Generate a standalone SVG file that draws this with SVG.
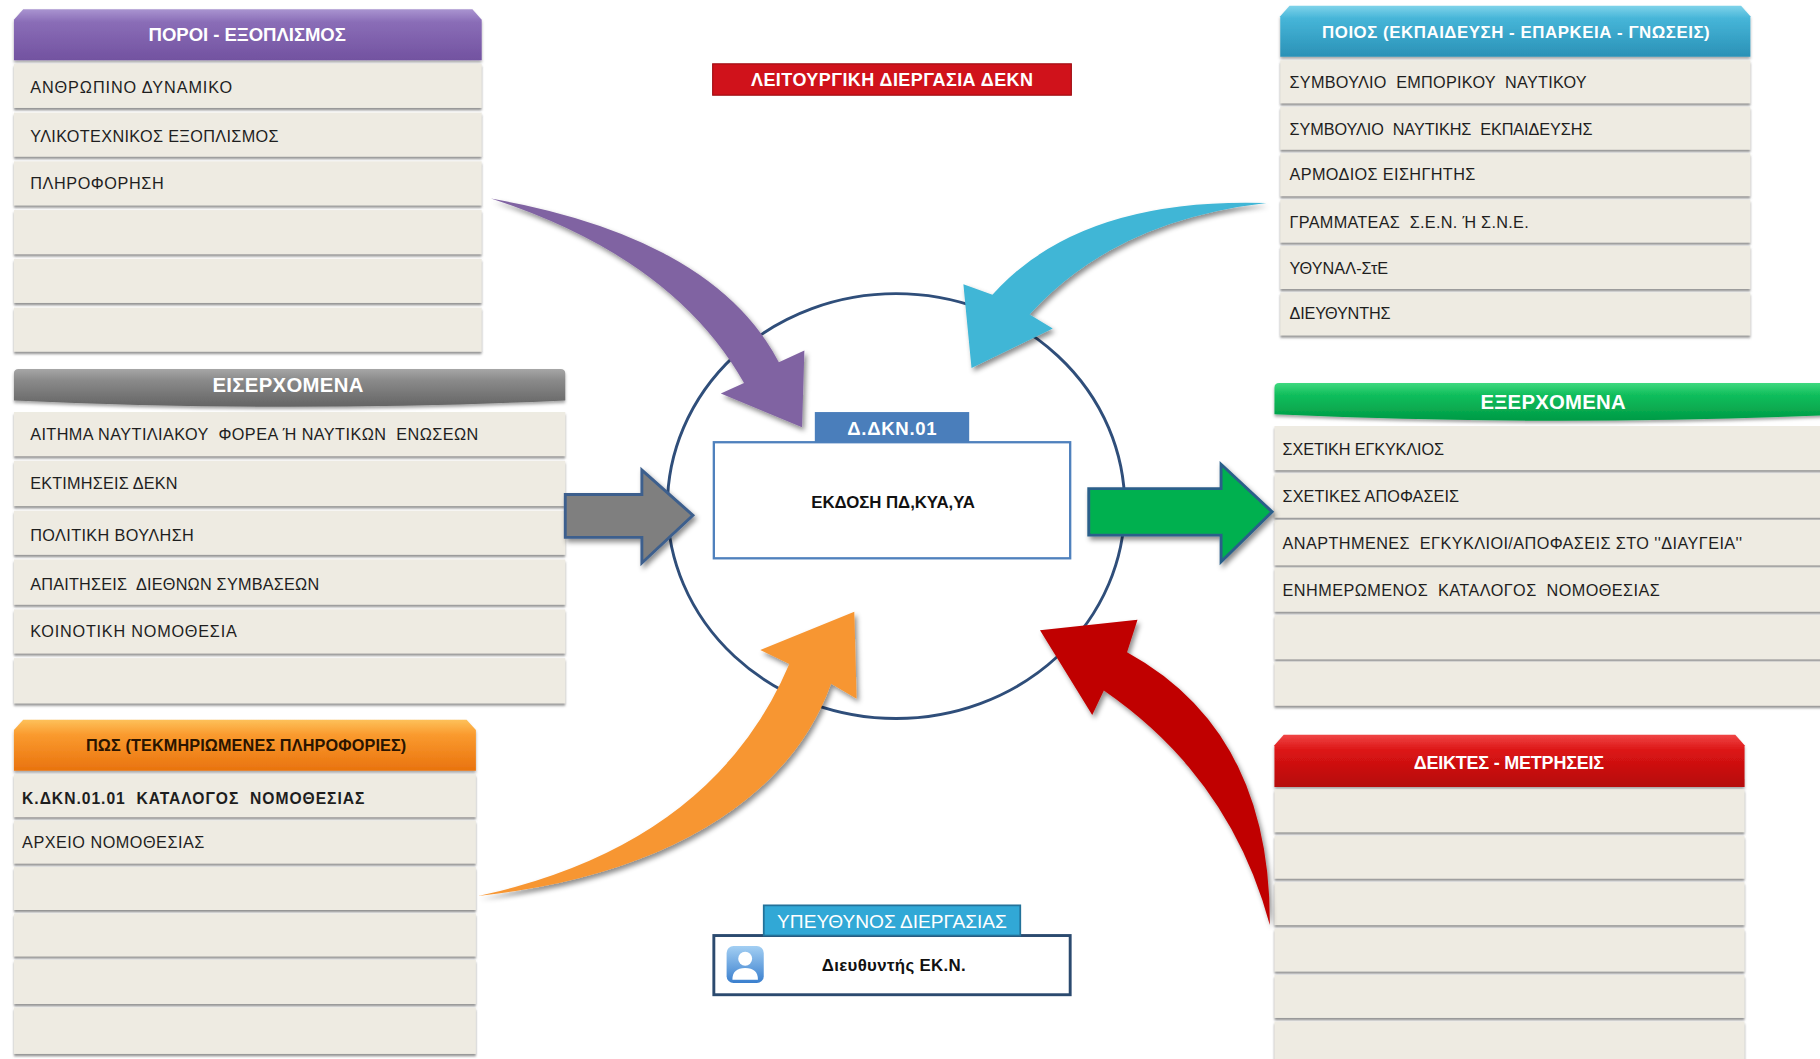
<svg xmlns="http://www.w3.org/2000/svg" width="1820" height="1059" viewBox="0 0 1820 1059">
<defs>
<style>
.row{fill:#eeebe2;filter:url(#rsh)}
.t{font-family:"Liberation Sans",Arial,sans-serif;font-size:14px;fill:#1e1e1e;dominant-baseline:central}
.tb{font-weight:bold;font-size:13.5px}
.h{font-family:"Liberation Sans",Arial,sans-serif;font-weight:bold;font-size:14px;fill:#ffffff;text-anchor:middle;dominant-baseline:central}
.hd{filter:url(#hsh)}
.arr{filter:url(#ash)}
</style>
<filter id="rsh" x="-2%" y="-20%" width="104%" height="150%"><feDropShadow dx="0" dy="2" stdDeviation="0.8" flood-color="#6d6d6d" flood-opacity="0.75"/></filter>
<filter id="hsh" x="-2%" y="-20%" width="104%" height="150%"><feDropShadow dx="0" dy="2" stdDeviation="1.5" flood-color="#000" flood-opacity="0.35"/></filter>
<filter id="ash" x="-20%" y="-20%" width="140%" height="140%"><feDropShadow dx="2" dy="3" stdDeviation="2.5" flood-color="#000" flood-opacity="0.45"/></filter>
<linearGradient id="gPur" x1="0" y1="0" x2="0" y2="1"><stop offset="0" stop-color="#a994d0"/><stop offset="0.25" stop-color="#8a6db7"/><stop offset="1" stop-color="#7252a0"/></linearGradient>
<linearGradient id="gBlu" x1="0" y1="0" x2="0" y2="1"><stop offset="0" stop-color="#7fd3ea"/><stop offset="0.25" stop-color="#46b5d8"/><stop offset="1" stop-color="#2a91b6"/></linearGradient>
<linearGradient id="gGry" x1="0" y1="0" x2="0" y2="1"><stop offset="0" stop-color="#a6a6a6"/><stop offset="0.3" stop-color="#8a8a8a"/><stop offset="1" stop-color="#646464"/></linearGradient>
<linearGradient id="gGrn" x1="0" y1="0" x2="0" y2="1"><stop offset="0" stop-color="#3fd97f"/><stop offset="0.3" stop-color="#12bf5d"/><stop offset="1" stop-color="#009a45"/></linearGradient>
<linearGradient id="gOra" x1="0" y1="0" x2="0" y2="1"><stop offset="0" stop-color="#fdc15a"/><stop offset="0.3" stop-color="#fa9a2e"/><stop offset="1" stop-color="#e9730e"/></linearGradient>
<linearGradient id="gRed" x1="0" y1="0" x2="0" y2="1"><stop offset="0" stop-color="#f04545"/><stop offset="0.3" stop-color="#dc1414"/><stop offset="1" stop-color="#b50a0a"/></linearGradient>
<linearGradient id="gIco" x1="0" y1="0" x2="0" y2="1"><stop offset="0" stop-color="#a3cff3"/><stop offset="1" stop-color="#3a7fce"/></linearGradient>
</defs>
<rect x="0" y="0" width="1820" height="1059" fill="#ffffff"/>
<g transform="scale(1.160714)">

<!-- central circle -->
<ellipse id="cycle" cx="772" cy="436" rx="197" ry="183" fill="none" stroke="#2f4e7a" stroke-width="2.5"/>

<!-- Title -->
<g id="title">
<rect x="614" y="55" width="309" height="27" fill="#d0121b" stroke="#a00d12" stroke-width="1"/>
<text class="h" x="768.5" y="69" style="font-size:15.5px" textLength="243" lengthAdjust="spacing">ΛΕΙΤΟΥΡΓΙΚΗ ΔΙΕΡΓΑΣΙΑ ΔΕΚΝ</text>
</g>

<!-- Table 1: ΠΟΡΟΙ - ΕΞΟΠΛΙΣΜΟΣ -->
<g id="resources">
<path class="hd" d="M12,52 V17 L20,8 H407 L415,17 V52 Z" fill="url(#gPur)"/>
<text class="h" x="213" y="30" style="font-size:16px" textLength="170" lengthAdjust="spacing">ΠΟΡΟΙ - ΕΞΟΠΛΙΣΜΟΣ</text>
<rect class="row" x="12" y="55" width="403" height="38"/>
<rect class="row" x="12" y="97" width="403" height="38"/>
<rect class="row" x="12" y="139" width="403" height="38"/>
<rect class="row" x="12" y="181" width="403" height="38"/>
<rect class="row" x="12" y="223" width="403" height="38"/>
<rect class="row" x="12" y="265" width="403" height="38"/>
<text class="t" x="26" y="75" textLength="174" lengthAdjust="spacing">ΑΝΘΡΩΠΙΝΟ ΔΥΝΑΜΙΚΟ</text>
<text class="t" x="26" y="117" textLength="214" lengthAdjust="spacing">ΥΛΙΚΟΤΕΧΝΙΚΟΣ ΕΞΟΠΛΙΣΜΟΣ</text>
<text class="t" x="26" y="158" textLength="115" lengthAdjust="spacing">ΠΛΗΡΟΦΟΡΗΣΗ</text>
</g>

<!-- Table 2: ΕΙΣΕΡΧΟΜΕΝΑ -->
<g id="inputs">
<path class="hd" d="M12,322 Q12,318 16,318 H483 Q487,318 487,322 V345 Q250,356 12,345 Z" fill="url(#gGry)"/>
<text class="h" x="248" y="332" style="font-size:17.5px" textLength="130" lengthAdjust="spacing">ΕΙΣΕΡΧΟΜΕΝΑ</text>
<rect class="row" x="12" y="355" width="475" height="38"/>
<rect class="row" x="12" y="397" width="475" height="39"/>
<rect class="row" x="12" y="440" width="475" height="38"/>
<rect class="row" x="12" y="482" width="475" height="39"/>
<rect class="row" x="12" y="525" width="475" height="38"/>
<rect class="row" x="12" y="567" width="475" height="39"/>
<text class="t" x="26" y="374" xml:space="preserve" textLength="386" lengthAdjust="spacing">ΑΙΤΗΜΑ ΝΑΥΤΙΛΙΑΚΟΥ  ΦΟΡΕΑ Ή ΝΑΥΤΙΚΩΝ  ΕΝΩΣΕΩΝ</text>
<text class="t" x="26" y="416" textLength="127" lengthAdjust="spacing">ΕΚΤΙΜΗΣΕΙΣ ΔΕΚΝ</text>
<text class="t" x="26" y="461" textLength="141" lengthAdjust="spacing">ΠΟΛΙΤΙΚΗ ΒΟΥΛΗΣΗ</text>
<text class="t" x="26" y="503" xml:space="preserve" textLength="249" lengthAdjust="spacing">ΑΠΑΙΤΗΣΕΙΣ  ΔΙΕΘΝΩΝ ΣΥΜΒΑΣΕΩΝ</text>
<text class="t" x="26" y="544" textLength="178" lengthAdjust="spacing">ΚΟΙΝΟΤΙΚΗ ΝΟΜΟΘΕΣΙΑ</text>
</g>

<!-- Table 3: ΠΩΣ -->
<g id="how">
<path class="hd" d="M12,664 V629 L20,620 H402 L410,629 V664 Z" fill="url(#gOra)"/>
<text class="h" x="212" y="642" style="font-size:14px;fill:#2a1400" textLength="276" lengthAdjust="spacing">ΠΩΣ (ΤΕΚΜΗΡΙΩΜΕΝΕΣ ΠΛΗΡΟΦΟΡΙΕΣ)</text>
<rect class="row" x="12" y="667" width="398" height="37"/>
<rect class="row" x="12" y="707" width="398" height="37"/>
<rect class="row" x="12" y="747" width="398" height="37"/>
<rect class="row" x="12" y="787" width="398" height="37"/>
<rect class="row" x="12" y="827" width="398" height="38"/>
<rect class="row" x="12" y="868" width="398" height="40"/>
<text class="t tb" x="19" y="688" xml:space="preserve" textLength="295" lengthAdjust="spacing">Κ.ΔΚΝ.01.01  ΚΑΤΑΛΟΓΟΣ  ΝΟΜΟΘΕΣΙΑΣ</text>
<text class="t" x="19" y="725" textLength="157" lengthAdjust="spacing">ΑΡΧΕΙΟ ΝΟΜΟΘΕΣΙΑΣ</text>
</g>

<!-- Table 4: ΠΟΙΟΣ -->
<g id="who">
<path class="hd" d="M1103,49 V14 L1111,5 H1500 L1508,14 V49 Z" fill="url(#gBlu)"/>
<text class="h" x="1306" y="28" style="font-size:14.5px" textLength="334" lengthAdjust="spacing">ΠΟΙΟΣ (ΕΚΠΑΙΔΕΥΣΗ - ΕΠΑΡΚΕΙΑ - ΓΝΩΣΕΙΣ)</text>
<rect class="row" x="1103" y="52" width="405" height="37"/>
<rect class="row" x="1103" y="92" width="405" height="37"/>
<rect class="row" x="1103" y="132" width="405" height="37"/>
<rect class="row" x="1103" y="172" width="405" height="37"/>
<rect class="row" x="1103" y="212" width="405" height="37"/>
<rect class="row" x="1103" y="252" width="405" height="37"/>
<text class="t" x="1111" y="71" xml:space="preserve" textLength="256" lengthAdjust="spacing">ΣΥΜΒΟΥΛΙΟ  ΕΜΠΟΡΙΚΟΥ  ΝΑΥΤΙΚΟΥ</text>
<text class="t" x="1111" y="111" xml:space="preserve" textLength="261" lengthAdjust="spacing">ΣΥΜΒΟΥΛΙΟ  ΝΑΥΤΙΚΗΣ  ΕΚΠΑΙΔΕΥΣΗΣ</text>
<text class="t" x="1111" y="150" textLength="160" lengthAdjust="spacing">ΑΡΜΟΔΙΟΣ ΕΙΣΗΓΗΤΗΣ</text>
<text class="t" x="1111" y="191" xml:space="preserve" textLength="206" lengthAdjust="spacing">ΓΡΑΜΜΑΤΕΑΣ  Σ.Ε.Ν. Ή Σ.Ν.Ε.</text>
<text class="t" x="1111" y="231" textLength="85" lengthAdjust="spacing">ΥΘΥΝΑΛ-ΣτΕ</text>
<text class="t" x="1111" y="270" textLength="87" lengthAdjust="spacing">ΔΙΕΥΘΥΝΤΗΣ</text>
</g>

<!-- Table 5: ΕΞΕΡΧΟΜΕΝΑ -->
<g id="outputs">
<path class="hd" d="M1098,334 Q1098,330 1102,330 H1590 V357 Q1340,368 1098,357 Z" fill="url(#gGrn)"/>
<text class="h" x="1338" y="346" style="font-size:17.5px" textLength="125" lengthAdjust="spacing">ΕΞΕΡΧΟΜΕΝΑ</text>
<rect class="row" x="1098" y="367" width="490" height="38"/>
<rect class="row" x="1098" y="408" width="490" height="38"/>
<rect class="row" x="1098" y="448" width="490" height="39"/>
<rect class="row" x="1098" y="489" width="490" height="38"/>
<rect class="row" x="1098" y="530" width="490" height="38"/>
<rect class="row" x="1098" y="570" width="490" height="38"/>
<text class="t" x="1105" y="387" textLength="139" lengthAdjust="spacing">ΣΧΕΤΙΚΗ ΕΓΚΥΚΛΙΟΣ</text>
<text class="t" x="1105" y="427" textLength="152" lengthAdjust="spacing">ΣΧΕΤΙΚΕΣ ΑΠΟΦΑΣΕΙΣ</text>
<text class="t" x="1105" y="468" xml:space="preserve" textLength="396" lengthAdjust="spacing">ΑΝΑΡΤΗΜΕΝΕΣ  ΕΓΚΥΚΛΙΟΙ/ΑΠΟΦΑΣΕΙΣ ΣΤΟ ''ΔΙΑΥΓΕΙΑ''</text>
<text class="t" x="1105" y="508" xml:space="preserve" textLength="325" lengthAdjust="spacing">ΕΝΗΜΕΡΩΜΕΝΟΣ  ΚΑΤΑΛΟΓΟΣ  ΝΟΜΟΘΕΣΙΑΣ</text>
</g>

<!-- Table 6: ΔΕΙΚΤΕΣ - ΜΕΤΡΗΣΕΙΣ -->
<g id="indicators">
<path class="hd" d="M1098,678 V642 L1106,633 H1495 L1503,642 V678 Z" fill="url(#gRed)"/>
<text class="h" x="1300" y="657" style="font-size:15.5px" textLength="164" lengthAdjust="spacing">ΔΕΙΚΤΕΣ - ΜΕΤΡΗΣΕΙΣ</text>
<rect class="row" x="1098" y="680" width="405" height="37"/>
<rect class="row" x="1098" y="720" width="405" height="37"/>
<rect class="row" x="1098" y="760" width="405" height="37"/>
<rect class="row" x="1098" y="800" width="405" height="37"/>
<rect class="row" x="1098" y="840" width="405" height="37"/>
<rect class="row" x="1098" y="880" width="405" height="40"/>
</g>

<!-- Process box -->
<g id="process">
<rect x="615" y="381" width="307" height="100" fill="#ffffff" stroke="#4f81bd" stroke-width="2"/>
<rect x="702" y="355" width="133" height="26" fill="#4a7ebb"/>
<text class="h" x="768.5" y="369" style="font-size:16px" textLength="77" lengthAdjust="spacing">Δ.ΔΚΝ.01</text>
<text class="h" x="769.5" y="433" style="font-size:14.5px;fill:#111111" textLength="141" lengthAdjust="spacing">ΕΚΔΟΣΗ ΠΔ,ΚΥΑ,ΥΑ</text>
</g>

<!-- Responsible -->
<g id="owner">
<rect x="615" y="806" width="307" height="51" fill="#ffffff" stroke="#2b4a6f" stroke-width="2.5"/>
<rect x="658" y="780" width="221" height="26" fill="#31a8d6" stroke="#23729a" stroke-width="1.5"/>
<text class="h" x="768.5" y="794" style="font-size:16.5px;font-weight:normal" textLength="198" lengthAdjust="spacing">ΥΠΕΥΘΥΝΟΣ ΔΙΕΡΓΑΣΙΑΣ</text>
<rect x="626" y="815" width="32" height="32" rx="6" fill="url(#gIco)"/>
<circle cx="642" cy="826" r="6" fill="#ffffff"/>
<path d="M631,844 Q631,834 642,834 Q653,834 653,844 Z" fill="#ffffff"/>
<text class="h" x="770" y="832" style="font-size:14.5px;fill:#111111" textLength="124" lengthAdjust="spacing">Διευθυντής ΕΚ.Ν.</text>
</g>

<!-- Connectors -->
<g id="connectors">
<path class="arr" d="M487,426 H553 V405 L597,444 L553,485 V463 H487 Z" fill="#7f7f7f" stroke="#3d5f8d" stroke-width="2.5" stroke-linejoin="miter"/>
<path class="arr" d="M938,421 H1052 V400 L1096,441 L1052,484 V461 H938 Z" fill="#00b050" stroke="#2b5f8a" stroke-width="2.5" stroke-linejoin="miter"/>
<path class="arr" d="M423,171 Q615,205 671,312 L693,302 L691,368 L621,339 L641,330 Q580,222 423,171 Z" fill="#8064a2"/>
<path class="arr" d="M1091,175 Q930,170 855,254 L830,245 L837,317 L907,283 L887,271 Q960,190 1091,175 Z" fill="#3fb6d6"/>
<path class="arr" d="M412,772 Q614,728 680,572 L655,560 L736,527 L738,602 L716,589 C680,690 570,755 412,772 Z" fill="#f79633"/>
<path class="arr" d="M896,543 L980,534 L971,562 Q1095,630 1094,797 Q1060,670 951,595 L941,616 Z" fill="#c00000"/>
</g>

</g>
</svg>
